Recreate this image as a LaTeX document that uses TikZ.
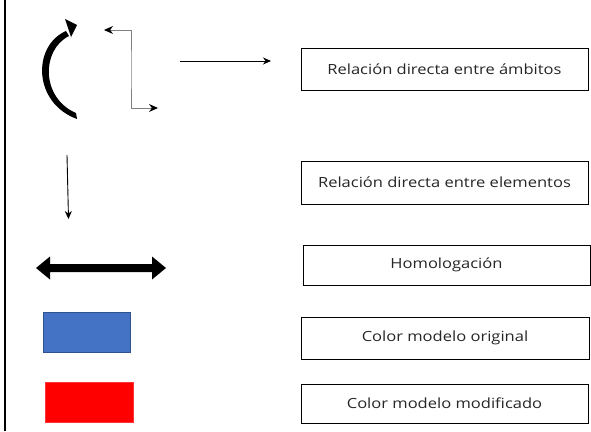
\documentclass[tikz,border=0pt]{standalone}
\usepackage{fontspec}
\setmainfont[FakeStretch=1.18]{Open Sans}
\usetikzlibrary{arrows.meta}
\definecolor{origblue}{HTML}{4472C4}
\definecolor{origblueb}{HTML}{2F528F}
\tikzset{
  legbox/.style={draw=black, line width=0.8pt, inner sep=0pt, minimum width=287pt, font=\fontsize{14}{16}\selectfont, text=black!85},
  thinarrow/.style={line width=0.9pt, -{Stealth[length=8pt,width=7pt]}},
}
\begin{document}
\begin{tikzpicture}[x=1pt,y=-1pt]
\useasboundingbox (0,0) rectangle (591,431);
% left rule
\draw[line width=1.2pt] (5,0) -- (5,431);
% curved arrow (crescent with head)
\fill (77,119) .. controls (33,103) and (32,46) .. (66,31)
      -- (69,36) .. controls (41,50) and (41,98) .. (76,113) -- cycle;
\fill (65,19) -- (77,25) -- (71,37) -- cycle;
% elbow double arrow
\coordinate (ea) at (104,30);
\coordinate (ec) at (131,70);
\coordinate (eb) at (158,108);
\draw[gray, line width=1pt, {Stealth[black,length=9pt,width=8pt]}-{Stealth[black,length=9pt,width=8pt]}] (ea) -| (ec) |- (eb);
% boxes
\node[legbox, minimum height=42pt] (b1) at (444.5,69) {Relación directa entre ámbitos};
\node[legbox, minimum height=43pt] (b2) at (444.5,182.5) {Relación directa entre elementos};
\node[legbox, minimum height=40pt] (b3) at (446.5,265) {Homologación};
\node[legbox, minimum height=42pt, minimum width=288pt] (b4) at (445,338) {Color modelo original};
\node[legbox, minimum height=39pt] (b5) at (444.5,403.5) {Color modelo modificado};
% horizontal arrow
\coordinate (h1) at (180,61);
\coordinate (h2) at (271,61);
\draw[thinarrow] (h1) -- (h2);
% down arrow
\coordinate (d1) at (67,155);
\coordinate (d2) at (68.5,219);
\draw[thinarrow] (d1) -- (d2);
% thick double arrow (homologación)
\fill (36,268) -- (50,256.5) -- (50,264) -- (152,264) -- (152,256.5) -- (166,268)
      -- (152,279.5) -- (152,272) -- (50,272) -- (50,279.5) -- cycle;
% colour swatches
\node[draw=origblueb, fill=origblue, line width=0.8pt, minimum width=87pt, minimum height=40pt, inner sep=0pt] (blue) at (86.5,332) {};
\node[fill=red, draw=red!80, minimum width=88pt, minimum height=40pt, inner sep=0pt] (red) at (89,402) {};
\end{tikzpicture}
\end{document}
